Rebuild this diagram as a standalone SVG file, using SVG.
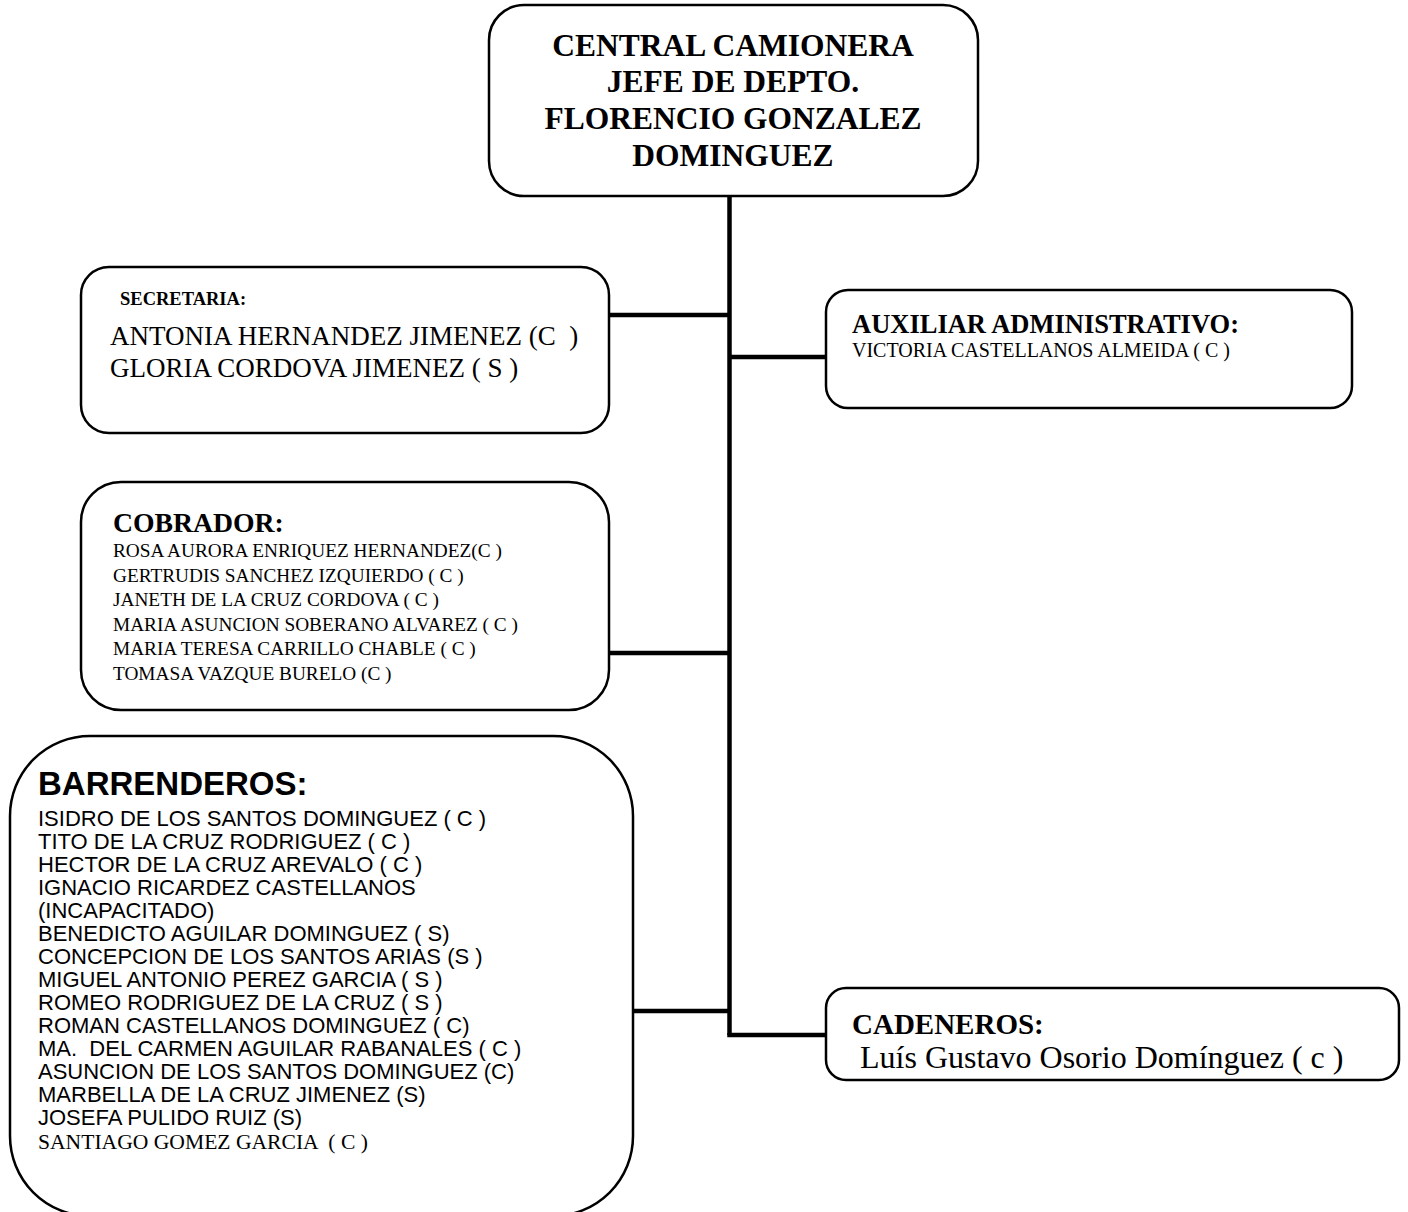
<svg xmlns="http://www.w3.org/2000/svg" width="1408" height="1212" viewBox="0 0 1408 1212">
<style>
.box{fill:#fff;stroke:#000;stroke-width:2.5}
.con{fill:none;stroke:#000;stroke-width:4.5}
.tb{font-family:"Liberation Serif","Times New Roman",serif;font-weight:bold;fill:#000}
.tr{font-family:"Liberation Serif","Times New Roman",serif;fill:#000}
.ar{font-family:"Liberation Sans",Arial,sans-serif;fill:#000}
</style>
<rect width="1408" height="1212" fill="#fff"/>
<g id="connectors">
<line class="con" x1="729.5" y1="196" x2="729.5" y2="1035"/>
<line class="con" x1="609" y1="315" x2="729.5" y2="315"/>
<line class="con" x1="729.5" y1="357" x2="826" y2="357"/>
<line class="con" x1="609" y1="653" x2="729.5" y2="653"/>
<line class="con" x1="633" y1="1011" x2="729.5" y2="1011"/>
<polyline class="con" points="729.5,1033 729.5,1035 826,1035"/>
</g>
<g id="jefe">
<rect class="box" x="489" y="5" width="489" height="191" rx="35"/>
<g class="tb" font-size="31.5" text-anchor="middle">
<text x="733" y="56">CENTRAL CAMIONERA</text>
<text x="733" y="92">JEFE DE DEPTO.</text>
<text x="733" y="129">FLORENCIO GONZALEZ</text>
<text x="733" y="166">DOMINGUEZ</text>
</g>
</g>
<g id="secretaria">
<rect class="box" x="81" y="267" width="528" height="166" rx="28"/>
<text class="tb" x="120" y="305" font-size="18.5">SECRETARIA:</text>
<text class="tr" x="110" y="345" font-size="27" xml:space="preserve">ANTONIA HERNANDEZ JIMENEZ (C  )</text>
<text class="tr" x="110" y="377" font-size="27">GLORIA CORDOVA JIMENEZ ( S )</text>
</g>
<g id="auxiliar">
<rect class="box" x="826" y="290" width="526" height="118" rx="22"/>
<text class="tb" x="852" y="333" font-size="26.5">AUXILIAR ADMINISTRATIVO:</text>
<text class="tr" x="852" y="357" font-size="20">VICTORIA CASTELLANOS ALMEIDA ( C )</text>
</g>
<g id="cobrador">
<rect class="box" x="81" y="482" width="528" height="228" rx="40"/>
<text class="tb" x="113" y="532" font-size="27.7">COBRADOR:</text>
<g class="tr" font-size="19.3">
<text x="113" y="557">ROSA AURORA ENRIQUEZ HERNANDEZ(C )</text>
<text x="113" y="581.5">GERTRUDIS SANCHEZ IZQUIERDO ( C )</text>
<text x="113" y="606">JANETH DE LA CRUZ CORDOVA ( C )</text>
<text x="113" y="630.5">MARIA ASUNCION SOBERANO ALVAREZ ( C )</text>
<text x="113" y="655">MARIA TERESA CARRILLO CHABLE ( C )</text>
<text x="113" y="679.5">TOMASA VAZQUE BURELO (C )</text>
</g>
</g>
<g id="barrenderos">
<rect class="box" x="10" y="736" width="623" height="480" rx="80"/>
<text class="ar" x="38" y="795" font-size="33" font-weight="bold">BARRENDEROS:</text>
<g class="ar" font-size="22">
<text x="38" y="826">ISIDRO DE LOS SANTOS DOMINGUEZ ( C )</text>
<text x="38" y="849">TITO DE LA CRUZ RODRIGUEZ ( C )</text>
<text x="38" y="872">HECTOR DE LA CRUZ AREVALO ( C )</text>
<text x="38" y="895">IGNACIO RICARDEZ CASTELLANOS</text>
<text x="38" y="918">(INCAPACITADO)</text>
<text x="38" y="941">BENEDICTO AGUILAR DOMINGUEZ ( S)</text>
<text x="38" y="964">CONCEPCION DE LOS SANTOS ARIAS (S )</text>
<text x="38" y="987">MIGUEL ANTONIO PEREZ GARCIA ( S )</text>
<text x="38" y="1010">ROMEO RODRIGUEZ DE LA CRUZ ( S )</text>
<text x="38" y="1033">ROMAN CASTELLANOS DOMINGUEZ ( C)</text>
<text x="38" y="1056" xml:space="preserve">MA.  DEL CARMEN AGUILAR RABANALES ( C )</text>
<text x="38" y="1079">ASUNCION DE LOS SANTOS DOMINGUEZ (C)</text>
<text x="38" y="1102">MARBELLA DE LA CRUZ JIMENEZ (S)</text>
<text x="38" y="1125">JOSEFA PULIDO RUIZ (S)</text>
</g>
<text class="tr" x="38" y="1149" font-size="21.6" xml:space="preserve">SANTIAGO GOMEZ GARCIA  ( C )</text>
</g>
<g id="cadeneros">
<rect class="box" x="826" y="988" width="573" height="92" rx="20"/>
<text class="tb" x="852" y="1034" font-size="29">CADENEROS:</text>
<text class="tr" x="852" y="1068" font-size="32" xml:space="preserve"> Luís Gustavo Osorio Domínguez ( c )</text>
</g>
</svg>
